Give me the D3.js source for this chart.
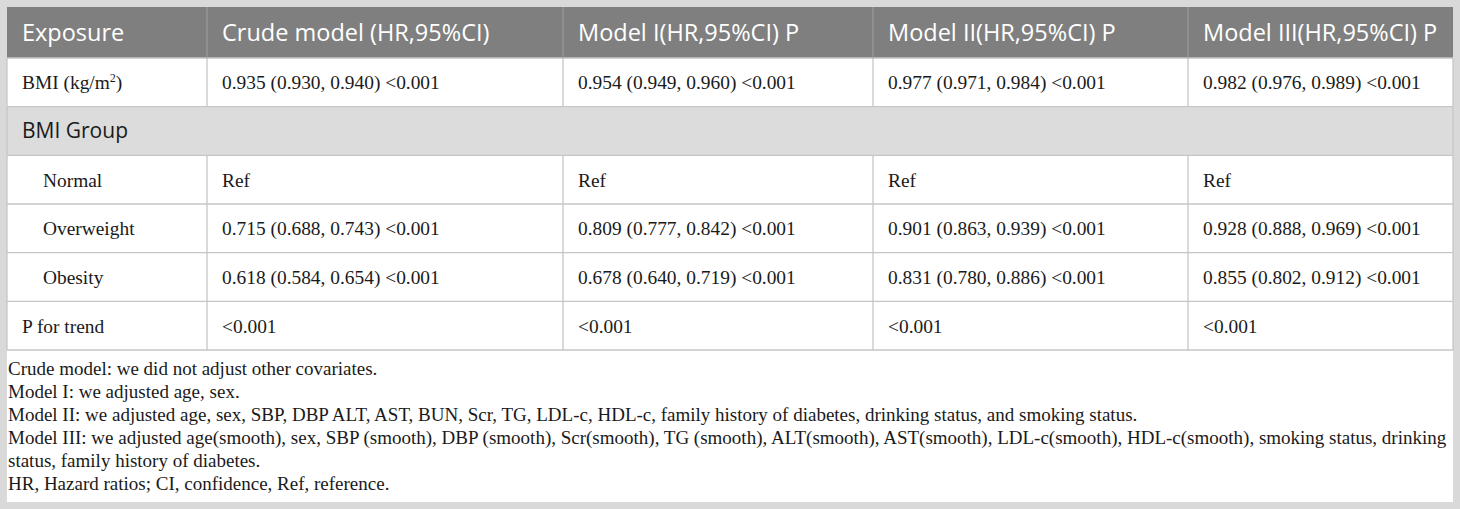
<!DOCTYPE html>
<html>
<head>
<meta charset="utf-8">
<script src="https://cdn.jsdelivr.net/npm/d3@7"></script>
<style>
  html, body { margin: 0; padding: 0; background: #d9d9d9; }
  svg { display: block; }
</style>
</head>
<body>
<svg id="chart" width="1460" height="509"></svg>
<script>
// ---- data ----
const headers = ["Exposure", "Crude model (HR,95%CI)", "Model I(HR,95%CI) P", "Model II(HR,95%CI) P", "Model III(HR,95%CI) P"];
const rowLabels = ["BMI (kg/m2)", "BMI Group", "Normal", "Overweight", "Obesity", "P for trend"];
const rowTypes = ["main", "group", "sub", "sub", "sub", "main"];
const crudeModel = ["0.935 (0.930, 0.940) <0.001", "", "Ref", "0.715 (0.688, 0.743) <0.001", "0.618 (0.584, 0.654) <0.001", "<0.001"];
const modelI = ["0.954 (0.949, 0.960) <0.001", "", "Ref", "0.809 (0.777, 0.842) <0.001", "0.678 (0.640, 0.719) <0.001", "<0.001"];
const modelII = ["0.977 (0.971, 0.984) <0.001", "", "Ref", "0.901 (0.863, 0.939) <0.001", "0.831 (0.780, 0.886) <0.001", "<0.001"];
const modelIII = ["0.982 (0.976, 0.989) <0.001", "", "Ref", "0.928 (0.888, 0.969) <0.001", "0.855 (0.802, 0.912) <0.001", "<0.001"];
const footnotes = [
  "Crude model: we did not adjust other covariates.",
  "Model I: we adjusted age, sex.",
  "Model II: we adjusted age, sex, SBP, DBP ALT, AST, BUN, Scr, TG, LDL-c, HDL-c, family history of diabetes, drinking status, and smoking status.",
  "Model III: we adjusted age(smooth), sex, SBP (smooth), DBP (smooth), Scr(smooth), TG (smooth), ALT(smooth), AST(smooth), LDL-c(smooth), HDL-c(smooth), smoking status, drinking",
  "status, family history of diabetes.",
  "HR, Hazard ratios; CI, confidence, Ref, reference."
];

// ---- layout ----
const svg = d3.select("#chart");
const W = 1460, H = 509;
const panel = { x0: 7, x1: 1453, y0: 7, y1: 502 };
const colEdges = [7, 207, 563, 873, 1188, 1453];
const headerBottom = 58;
const tableBottom = 350;
const padX = 15;

const colScale = d3.scaleOrdinal().domain(d3.range(headers.length)).range(colEdges.slice(0, -1));
const rowScale = d3.scaleBand().domain(d3.range(rowLabels.length)).range([headerBottom, tableBottom]);

const serif = "'Liberation Serif', 'Times New Roman', serif";
const sans = "'Open Sans', 'Noto Sans', sans-serif";
const lineCol = "#c6c6c6";

// panel background
svg.append("rect").attr("x", 0).attr("y", 0).attr("width", W).attr("height", H).attr("fill", "#d9d9d9");
svg.append("rect").attr("x", panel.x0).attr("y", panel.y0)
  .attr("width", panel.x1 - panel.x0).attr("height", panel.y1 - panel.y0).attr("fill", "#ffffff");

// header
svg.append("rect").attr("x", panel.x0).attr("y", panel.y0)
  .attr("width", panel.x1 - panel.x0).attr("height", headerBottom - panel.y0).attr("fill", "#7f7f7f");

// group row background
rowTypes.forEach((t, i) => {
  if (t === "group") {
    svg.append("rect").attr("x", panel.x0).attr("y", rowScale(i))
      .attr("width", panel.x1 - panel.x0).attr("height", rowScale.bandwidth()).attr("fill", "#dcdcdc");
  }
});

// horizontal lines
const hLines = d3.range(rowLabels.length + 1).map(i => i < rowLabels.length ? rowScale(i) : tableBottom);
svg.append("g").selectAll("line").data(hLines).join("line")
  .attr("x1", panel.x0).attr("x2", panel.x1)
  .attr("y1", d => d).attr("y2", d => d)
  .attr("stroke", lineCol).attr("stroke-width", 1.3);

// vertical lines
const vLines = colEdges.slice(1, -1);
svg.append("g").selectAll("line").data(vLines).join("line")
  .attr("x1", d => d).attr("x2", d => d)
  .attr("y1", panel.y0).attr("y2", headerBottom)
  .attr("stroke", "#999999").attr("stroke-width", 1.2);
rowTypes.forEach((t, i) => {
  if (t === "group") return;
  svg.append("g").selectAll("line").data(vLines).join("line")
    .attr("x1", d => d).attr("x2", d => d)
    .attr("y1", rowScale(i)).attr("y2", rowScale(i) + rowScale.bandwidth())
    .attr("stroke", lineCol).attr("stroke-width", 1.3);
});
svg.append("g").selectAll("line").data([panel.x0, panel.x1]).join("line")
  .attr("x1", d => d).attr("x2", d => d)
  .attr("y1", headerBottom).attr("y2", tableBottom)
  .attr("stroke", lineCol).attr("stroke-width", 1.3);

// header text
svg.append("g").selectAll("text").data(headers).join("text")
  .attr("x", (d, i) => colScale(i) + padX)
  .attr("y", (panel.y0 + headerBottom) / 2 + 8.5)
  .attr("fill", "#ffffff")
  .style("font-family", sans).style("font-size", "23.5px")
  .text(d => d);

// body text
const columns = [rowLabels, crudeModel, modelI, modelII, modelIII];
rowLabels.forEach((lab, i) => {
  const yBase = rowScale(i) + rowScale.bandwidth() / 2 + 7;
  columns.forEach((col, c) => {
    const val = col[i];
    if (!val) return;
    const isGroup = rowTypes[i] === "group";
    const x = colScale(c) + padX + (c === 0 && rowTypes[i] === "sub" ? 21 : 0);
    const t = svg.append("text").attr("x", x).attr("y", yBase)
      .attr("fill", "#1a1a1a")
      .style("font-family", isGroup ? sans : serif)
      .style("font-size", isGroup ? "21px" : "19.4px");
    if (c === 0 && val === "BMI (kg/m2)") {
      t.append("tspan").text("BMI (kg/m");
      t.append("tspan").attr("dy", -7).style("font-size", "12px").text("2");
      t.append("tspan").attr("dy", 7).text(")");
    } else {
      t.text(val);
    }
  });
});

// footnotes
const fnScale = d3.scaleLinear().domain([0, footnotes.length - 1]).range([375, 490]);
svg.append("g").selectAll("text").data(footnotes).join("text")
  .attr("x", 8)
  .attr("y", (d, i) => fnScale(i))
  .attr("fill", "#1a1a1a")
  .style("font-family", serif).style("font-size", "19px")
  .text(d => d);
</script>
</body>
</html>
